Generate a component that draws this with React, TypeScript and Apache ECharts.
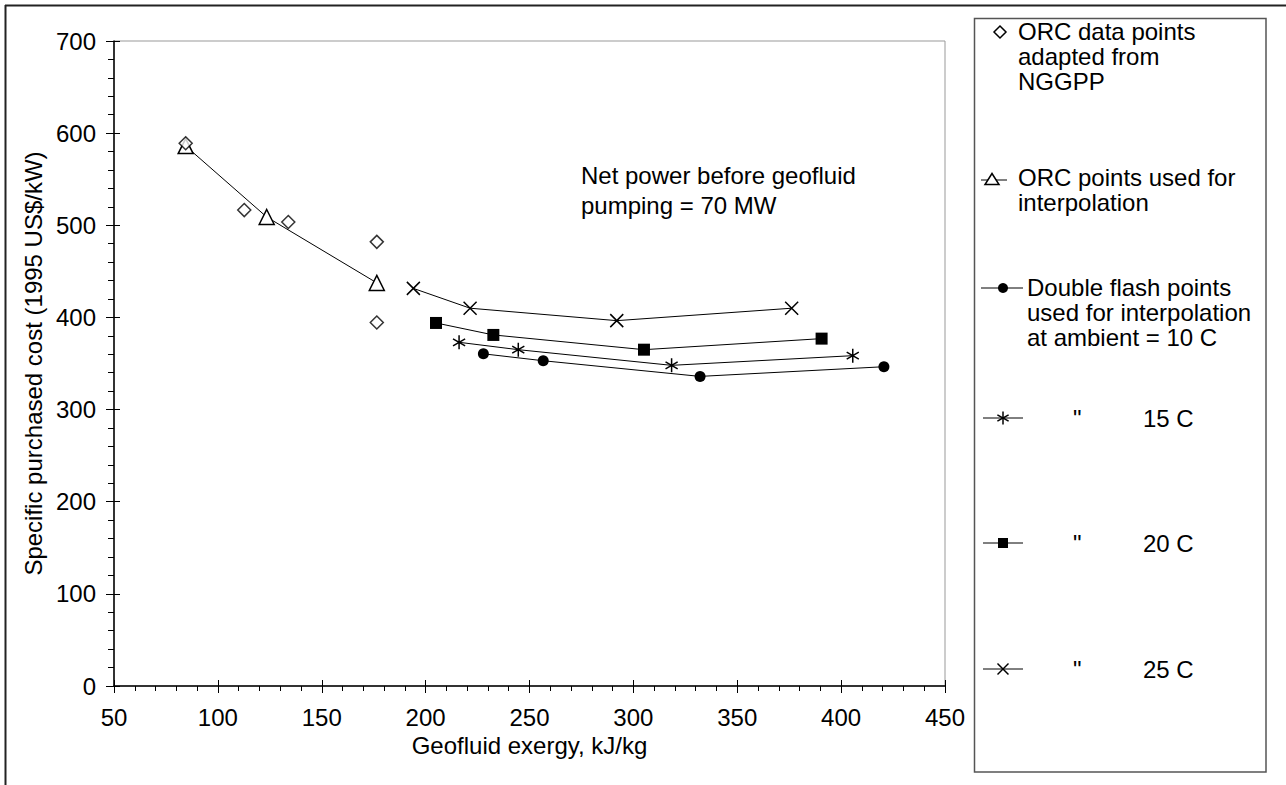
import React, { useEffect, useRef } from "react";
import * as echarts from "echarts";

const orcDataX = [84.5, 112.7, 133.9, 176.5, 176.5];
const orcDataY = [589, 516.5, 503.5, 482, 394.5];
const orcInterpX = [84.5, 123.5, 176.5];
const orcInterpY = [586, 509, 437.5];
const flash10X = [227.8, 256.6, 332.1, 420.6];
const flash10Y = [360.5, 353, 336, 346.5];
const flash15X = [216.1, 244.6, 318.4, 405.6];
const flash15Y = [373, 365, 348, 358.5];
const flash20X = [205, 232.6, 305.1, 390.6];
const flash20Y = [394, 381, 365, 377];
const flash25X = [194.1, 221.4, 292, 376.2];
const flash25Y = [431.5, 410, 396.5, 410];

const xTitle = "Geofluid exergy, kJ/kg";
const yTitle = "Specific purchased cost (1995 US$/kW)";
const note = ["Net power before geofluid", "pumping = 70 MW"];

const FONT = '"Liberation Sans", Arial, sans-serif';
const FS = 24;

const ASTER = "path://M6,0L6,12M0.8,3L11.2,9M11.2,3L0.8,9";
const CROSS = "path://M0,0L12,12M12,0L0,12";

const pairs = (xs: number[], ys: number[]) => xs.map((x, i) => [x, ys[i]]);

export default function App() {
  const ref = useRef<HTMLDivElement>(null);
  useEffect(() => {
    if (!ref.current) return;
    const chart = echarts.init(ref.current, undefined, { renderer: "svg" });
    const lineStyle = { color: "#000", width: 1 };
    const txt = (x: number, y: number, text: string, extra: any = {}) => ({
      type: "text",
      x,
      y,
      style: {
        text,
        font: `${FS}px ${FONT}`,
        fill: "#000",
        verticalAlign: "middle",
        textVerticalAlign: "middle",
        ...extra,
      },
    });
    const legLine = (x1: number, x2: number, y: number) => ({
      type: "line",
      shape: { x1, y1: y, x2, y2: y },
      style: { stroke: "#000", lineWidth: 1 },
    });
    const graphic: any[] = [
      // outer frame
      { type: "line", shape: { x1: 5, y1: 5.5, x2: 1286, y2: 5.5 }, style: { stroke: "#222", lineWidth: 2 } },
      { type: "line", shape: { x1: 5.5, y1: 5, x2: 5.5, y2: 785 }, style: { stroke: "#222", lineWidth: 2 } },
      // legend box
      { type: "rect", shape: { x: 974.5, y: 18.5, width: 291.5, height: 753.5 }, style: { fill: "none", stroke: "#555", lineWidth: 1.5 } },
      // entry 1: diamond
      { type: "polygon", shape: { points: [[1000, 26], [1006, 32], [1000, 38], [994, 32]] }, style: { fill: "#fff", stroke: "#000", lineWidth: 1.5 } },
      txt(1018, 31, "ORC data points"),
      txt(1018, 56, "adapted from"),
      txt(1018, 81, "NGGPP"),
      // entry 2: triangle
      legLine(981, 1007, 180),
      { type: "polygon", shape: { points: [[992, 173.5], [999, 184.5], [985, 184.5]] }, style: { fill: "#fff", stroke: "#000", lineWidth: 1.5 } },
      txt(1018, 177, "ORC points used for"),
      txt(1018, 202, "interpolation"),
      // entry 3: circle
      legLine(981, 1023, 288),
      { type: "circle", shape: { cx: 1003, cy: 288, r: 5 }, style: { fill: "#000" } },
      txt(1027, 287, "Double flash points"),
      txt(1027, 312, "used for interpolation"),
      txt(1027, 337, "at ambient = 10 C"),
      // entry 4: asterisk
      legLine(983, 1023, 418),
      { type: "line", shape: { x1: 1003, y1: 411.5, x2: 1003, y2: 424.5 }, style: { stroke: "#000", lineWidth: 1.5 } },
      { type: "line", shape: { x1: 997.4, y1: 414.8, x2: 1008.6, y2: 421.2 }, style: { stroke: "#000", lineWidth: 1.5 } },
      { type: "line", shape: { x1: 1008.6, y1: 414.8, x2: 997.4, y2: 421.2 }, style: { stroke: "#000", lineWidth: 1.5 } },
      txt(1073, 418, '"'),
      txt(1143, 418, "15 C"),
      // entry 5: square
      legLine(983, 1023, 543),
      { type: "rect", shape: { x: 998, y: 538, width: 10, height: 10 }, style: { fill: "#000" } },
      txt(1073, 543, '"'),
      txt(1143, 543, "20 C"),
      // entry 6: cross
      legLine(983, 1023, 669),
      { type: "line", shape: { x1: 997.5, y1: 663.5, x2: 1008.5, y2: 674.5 }, style: { stroke: "#000", lineWidth: 1.5 } },
      { type: "line", shape: { x1: 1008.5, y1: 663.5, x2: 997.5, y2: 674.5 }, style: { stroke: "#000", lineWidth: 1.5 } },
      txt(1073, 669, '"'),
      txt(1143, 669, "25 C"),
      // note
      txt(581, 175, note[0]),
      txt(581, 205, note[1]),
    ];

    const commonY = { type: "value", min: 0, max: 700, interval: 100, splitLine: { show: false } };
    const commonX = { type: "value", min: 50, max: 450, interval: 50, splitLine: { show: false } };

    chart.setOption({
      animation: false,
      grid: {
        left: 114,
        top: 41,
        right: 341,
        bottom: 99,
        show: true,
        borderColor: "#999",
        borderWidth: 1,
      },
      xAxis: [
        {
          ...commonX,
          name: xTitle,
          nameLocation: "middle",
          nameGap: 46,
          nameTextStyle: { fontFamily: FONT, fontSize: FS, color: "#000" },
          axisLine: { show: true, lineStyle: { color: "#000", width: 1.5 } },
          axisTick: { show: true, length: 7, lineStyle: { color: "#000" } },
          minorTick: { show: true, splitNumber: 5, length: 5, lineStyle: { color: "#000" } },
          axisLabel: { fontFamily: FONT, fontSize: FS, color: "#000", margin: 19 },
        },
        {
          ...commonX,
          position: "bottom",
          axisLine: { show: false },
          axisTick: { show: true, inside: true, length: 6, lineStyle: { color: "#000" } },
          axisLabel: { show: false },
        },
      ],
      yAxis: [
        {
          ...commonY,
          name: yTitle,
          nameLocation: "middle",
          nameGap: 66,
          nameTextStyle: { fontFamily: FONT, fontSize: FS, color: "#000" },
          axisLine: { show: true, lineStyle: { color: "#000", width: 1.5 } },
          axisTick: { show: true, length: 8, lineStyle: { color: "#000" } },
          minorTick: { show: true, splitNumber: 5, length: 6, lineStyle: { color: "#000" } },
          axisLabel: { fontFamily: FONT, fontSize: FS, color: "#000", margin: 18 },
        },
        {
          ...commonY,
          position: "left",
          axisLine: { show: false },
          axisTick: { show: true, inside: true, length: 6, lineStyle: { color: "#000" } },
          axisLabel: { show: false },
        },
      ],
      series: [
        {
          name: "ORC data points adapted from NGGPP",
          type: "scatter",
          data: pairs(orcDataX, orcDataY),
          symbol: "diamond",
          symbolSize: 13,
          itemStyle: { color: "#fff", borderColor: "#000", borderWidth: 1.5 },
          z: 5,
        },
        {
          name: "ORC points used for interpolation",
          type: "line",
          data: pairs(orcInterpX, orcInterpY),
          symbol: "triangle",
          symbolSize: 15,
          lineStyle,
          itemStyle: { color: "#fff", borderColor: "#000", borderWidth: 1.5 },
        },
        {
          name: "Double flash 10 C",
          type: "line",
          data: pairs(flash10X, flash10Y),
          symbol: "circle",
          symbolSize: 11,
          lineStyle,
          itemStyle: { color: "#000", borderColor: "#000", borderWidth: 0 },
        },
        {
          name: "15 C",
          type: "line",
          data: pairs(flash15X, flash15Y),
          symbol: ASTER,
          symbolSize: 14,
          symbolKeepAspect: true,
          lineStyle,
          itemStyle: { color: "#000", borderColor: "#000", borderWidth: 1.5 },
        },
        {
          name: "20 C",
          type: "line",
          data: pairs(flash20X, flash20Y),
          symbol: "rect",
          symbolSize: 12,
          lineStyle,
          itemStyle: { color: "#000", borderColor: "#000", borderWidth: 0 },
        },
        {
          name: "25 C",
          type: "line",
          data: pairs(flash25X, flash25Y),
          symbol: CROSS,
          symbolSize: 13,
          lineStyle,
          itemStyle: { color: "#000", borderColor: "#000", borderWidth: 1.5 },
        },
      ],
      graphic,
    });
    return () => chart.dispose();
  }, []);
  return (
    <div
      ref={ref}
      style={{ position: "fixed", left: 0, top: 0, width: 1286, height: 785, background: "#fff" }}
    />
  );
}
